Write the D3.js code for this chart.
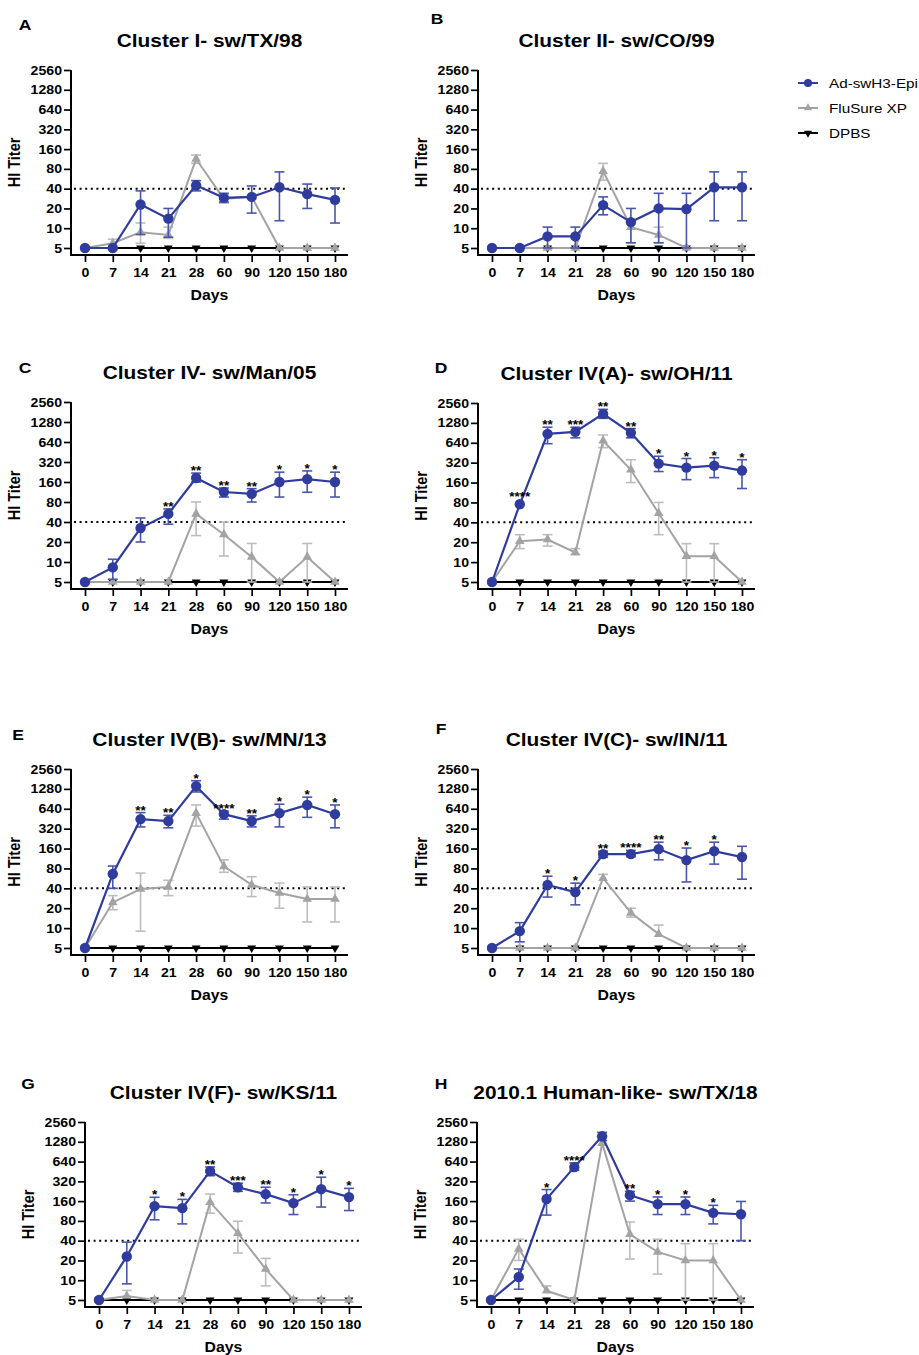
<!DOCTYPE html>
<html><head><meta charset="utf-8">
<script src="https://cdn.jsdelivr.net/npm/d3@7"></script>
<style>body{margin:0;background:#fff;} svg{display:block;} text{font-family:"Liberation Sans",Arial,sans-serif;}</style>
</head><body>
<svg id="c" width="919" height="1355"></svg>
<script>
const days = ["0","7","14","21","28","60","90","120","150","180"];
const yTicks = [5,10,20,40,80,160,320,640,1280,2560];
const titles = ["Cluster I- sw/TX/98","Cluster II- sw/CO/99","Cluster IV- sw/Man/05","Cluster IV(A)- sw/OH/11",
  "Cluster IV(B)- sw/MN/13","Cluster IV(C)- sw/IN/11","Cluster IV(F)- sw/KS/11","2010.1 Human-like- sw/TX/18"];
const letters = ["A","B","C","D","E","F","G","H"];
const seriesNames = ["Ad-swH3-Epi","FluSure XP","DPBS"];
const threshold = 40;
const dpbs = [5,5,5,5,5,5,5,5,5,5];

const epiA=[5,5,23,14,45,29,30,42,33,27], epiAhi=[null,null,37,20,53,34,44,72,47,41], epiAlo=[null,null,8,7.3,37,25,17,13,20,12];
const fluA=[5,5.9,8.7,7.9,113,28,30,5,5,5], fluAhi=[null,6.8,12,10.4,130,33,null,null,null,null], fluAlo=[null,null,5.9,7,97,24,null,null,null,null];
const sigA=["","","","","","","","","",""];

const epiB=[5,5,7.5,7.5,22.5,12.4,20,19.6,42,42], epiBhi=[null,null,10.4,10.4,30,20,34,34,72,72], epiBlo=[null,null,5,5,16,6,6,5,13,13];
const fluB=[5,5,5,5,74,10.4,7.9,5,5,5], fluBhi=[null,null,null,null,97,11.5,10.4,null,null,null], fluBlo=[null,null,null,null,54,6,6,null,null,null];
const sigB=["","","","","","","","","",""];

const epiC=[5,8.3,32.5,53,184,113,106,160,177,160], epiChi=[null,11,46,63,218,130,127,225,235,225], epiClo=[null,5.5,20,37,160,95,80,95,112,95];
const fluC=[5,5,5,5,53,26,11.9,5,11.9,5], fluChi=[null,null,null,null,80,40,19,null,19,null], fluClo=[null,null,null,null,25,12.3,5,null,5,null];
const sigC=["","","","**","**","**","**","*","*","*"];

const epiD=[5,75,874,937,1750,905,310,269,288,243], epiDhi=[null,null,1100,1100,2050,1050,400,370,380,355], epiDlo=[null,null,620,760,1500,760,235,177,190,130];
const fluD=[5,20.7,22,14,686,250,55,12.3,12.3,5], fluDhi=[null,26,26,16,840,355,80,19,19,null], fluDlo=[null,16,17.5,13,540,160,26,5,5,null];
const sigD=["","****","**","***","**","**","*","*","*","*"];

const epiE=[5,66,446,417,1410,530,417,550,730,530], epiEhi=[null,87,560,510,1700,590,500,750,960,730], epiElo=[null,40,340,330,1150,446,340,340,475,330];
const fluE=[5,24.5,39,42,550,86,45,34,27.5,27.5], fluEhi=[null,31,68,53,730,108,60,48,42,42], fluElo=[null,19,9,31,350,70,30,20,12.4,12.4];
const sigE=["","","**","**","*","****","**","*","*","*"];

const epiF=[5,9,45,35,132,132,157,107,146,119], epiFhi=[null,12.1,61,48,146,150,200,163,200,173], epiFlo=[null,6.2,29.5,22.5,118,121,108,50,93,55];
const fluF=[5,5,5,5,57,17,8.1,5,5,5], fluFhi=[null,null,null,null,65,20,11.1,null,null,null], fluFlo=[null,null,null,null,null,14.7,null,null,null,null];
const sigF=["","","*","*","**","****","**","*","*",""];

const epiG=[5,23,134,125,458,260,204,149,243,184], epiGhi=[null,38,183,170,530,300,260,200,370,250], epiGlo=[null,8.8,83,72,390,225,150,100,130,115];
const fluG=[5,5.75,5,5,154,52,14.8,5,5,5], fluGhi=[null,7,null,null,205,79,21.5,null,null,null], fluGlo=[null,null,null,null,105,26,8.2,null,null,null];
const sigG=["","","*","*","**","***","**","*","*","*"];

const epiH=[5,11.2,172,527,1550,197,144,144,106,101], epiHhi=[null,14.8,240,610,1780,225,185,185,138,158], epiHlo=[null,7.3,98,470,1340,160,100,100,72,40];
const fluH=[5,30,6.9,5,1220,50,27,20,20,5], fluHhi=[null,42,8.2,null,null,77,42,36,36,null], fluHlo=[null,20,null,null,null,21,12.4,5,5,null];
const sigH=["","","*","****","","**","*","*","*",""];

const panels = [
  {epi:epiA,ehi:epiAhi,elo:epiAlo,flu:fluA,fhi:fluAhi,flo:fluAlo,sig:sigA},
  {epi:epiB,ehi:epiBhi,elo:epiBlo,flu:fluB,fhi:fluBhi,flo:fluBlo,sig:sigB},
  {epi:epiC,ehi:epiChi,elo:epiClo,flu:fluC,fhi:fluChi,flo:fluClo,sig:sigC},
  {epi:epiD,ehi:epiDhi,elo:epiDlo,flu:fluD,fhi:fluDhi,flo:fluDlo,sig:sigD},
  {epi:epiE,ehi:epiEhi,elo:epiElo,flu:fluE,fhi:fluEhi,flo:fluElo,sig:sigE},
  {epi:epiF,ehi:epiFhi,elo:epiFlo,flu:fluF,fhi:fluFhi,flo:fluFlo,sig:sigF},
  {epi:epiG,ehi:epiGhi,elo:epiGlo,flu:fluG,fhi:fluGhi,flo:fluGlo,sig:sigG},
  {epi:epiH,ehi:epiHhi,elo:epiHlo,flu:fluH,fhi:fluHhi,flo:fluHlo,sig:sigH}
];

// layout
const layout = [
  {ax:71, yTop:70, yBot:248, lx:25, ly:24},
  {ax:478, yTop:70, yBot:248, lx:437, ly:18},
  {ax:71, yTop:402, yBot:582, lx:25, ly:367},
  {ax:478, yTop:403, yBot:582, lx:441, ly:367},
  {ax:71, yTop:769, yBot:948, lx:18, ly:734},
  {ax:478, yTop:769, yBot:948, lx:441, ly:728},
  {ax:85, yTop:1122, yBot:1300, lx:28, ly:1083},
  {ax:477, yTop:1122, yBot:1300, lx:441, ly:1083}
];

const SX = 1.13; // horizontal stretch of the original figure's lettering
const BLUE = "#2f3c9e", GRAY = "#a3a3a3", GRAYERR = "#bdbdbd";
const svg = d3.select("#c");

function stext(sel, x, y, txt, size, weight, anchor, extra) {
  return sel.append("text")
    .attr("transform", `translate(${x},${y}) scale(${SX},1)` + (extra || ""))
    .attr("text-anchor", anchor || "start")
    .attr("font-size", size).attr("font-weight", weight || "normal").text(txt);
}

panels.forEach((p, i) => {
  const L = layout[i];
  const g = svg.append("g");
  const x0 = L.ax + 14, x1 = x0 + 250;
  const xEnd = x1 + 13;
  const axisY = L.yBot + 7;
  const x = d3.scalePoint().domain(days).range([x0, x1]);
  const y = d3.scaleLog().base(2).domain([5, 2560]).range([L.yBot, L.yTop]);

  stext(g, L.lx, L.ly + 6, letters[i], 15.5, "bold", "middle");
  const cx = (L.ax + xEnd) / 2;
  stext(g, cx, L.yTop - 23, titles[i], 18.5, "bold", "middle");

  // y axis
  const ya = g.append("g").attr("transform",`translate(${L.ax},0)`)
    .call(d3.axisLeft(y).tickValues(yTicks).tickFormat(d3.format("d")).tickSize(7).tickSizeOuter(0));
  ya.select(".domain").remove();
  ya.selectAll(".tick line").attr("stroke","#000").attr("stroke-width",1.7);
  ya.selectAll(".tick text").attr("font-size",12.5).attr("font-weight","bold").attr("fill","#000")
    .attr("font-family","'Liberation Sans',Arial,sans-serif")
    .attr("x",null).attr("transform",`translate(-9,0) scale(${SX},1)`);
  g.append("line").attr("x1",L.ax).attr("x2",L.ax).attr("y1",L.yTop).attr("y2",axisY+1)
    .attr("stroke","#000").attr("stroke-width",2);

  // x axis
  const xa = g.append("g").attr("transform",`translate(0,${axisY})`)
    .call(d3.axisBottom(x).tickSize(7).tickSizeOuter(0));
  xa.select(".domain").remove();
  xa.selectAll(".tick line").attr("stroke","#000").attr("stroke-width",1.7);
  xa.selectAll(".tick text").attr("font-size",12.5).attr("font-weight","bold").attr("fill","#000")
    .attr("font-family","'Liberation Sans',Arial,sans-serif")
    .attr("y",null).attr("transform",`translate(0,13) scale(${SX},1)`);
  g.append("line").attr("x1",L.ax-1).attr("x2",xEnd).attr("y1",axisY).attr("y2",axisY)
    .attr("stroke","#000").attr("stroke-width",2);

  // axis titles
  stext(g, cx, axisY + 45, "Days", 14, "bold", "middle");
  stext(g, L.ax - 51, (L.yTop + axisY) / 2, "HI Titer", 14.5, "bold", "middle", " rotate(-90)");

  // threshold dotted
  g.append("line").attr("x1",L.ax+3).attr("x2",xEnd).attr("y1",y(threshold)).attr("y2",y(threshold))
    .attr("stroke","#000").attr("stroke-width",2).attr("stroke-dasharray","2,3.6");

  const line = d3.line().x((d,j)=>x(days[j])).y(d=>y(d));

  // DPBS
  g.append("path").attr("d", line(dpbs)).attr("fill","none").attr("stroke","#000").attr("stroke-width",1.8);
  const tri = d3.symbol().type(d3.symbolTriangle).size(34);
  dpbs.forEach((v,j)=>{
    g.append("path").attr("d",tri()).attr("transform",`translate(${x(days[j])},${y(v)}) rotate(180)`).attr("fill","#000");
  });

  function errs(vals, hi, lo, color, w) {
    vals.forEach((v,j)=>{
      const xx = x(days[j]);
      [hi[j], lo[j]].forEach(e=>{
        if (e == null) return;
        g.append("line").attr("x1",xx).attr("x2",xx).attr("y1",y(v)).attr("y2",y(e))
          .attr("stroke",color).attr("stroke-width",w);
        g.append("line").attr("x1",xx-5).attr("x2",xx+5).attr("y1",y(e)).attr("y2",y(e))
          .attr("stroke",color).attr("stroke-width",w);
      });
    });
  }

  // FluSure
  errs(p.flu, p.fhi, p.flo, GRAYERR, 1.6);
  g.append("path").attr("d", line(p.flu)).attr("fill","none").attr("stroke",GRAY).attr("stroke-width",2);
  const tri2 = d3.symbol().type(d3.symbolTriangle).size(40);
  p.flu.forEach((v,j)=>{
    g.append("path").attr("d",tri2()).attr("transform",`translate(${x(days[j])},${y(v)})`).attr("fill",GRAY);
  });

  // Epi
  errs(p.epi, p.ehi, p.elo, "#4a56ab", 1.6);
  g.append("path").attr("d", line(p.epi)).attr("fill","none").attr("stroke",BLUE).attr("stroke-width",2.2);
  p.epi.forEach((v,j)=>{
    g.append("circle").attr("cx",x(days[j])).attr("cy",y(v)).attr("r",5.2).attr("fill",BLUE);
  });

  // significance
  p.sig.forEach((s,j)=>{
    if (!s) return;
    const top = p.ehi[j] != null ? y(p.ehi[j]) : y(p.epi[j]) - 5;
    stext(g, x(days[j]), top + 2, s, 12, "bold", "middle");
  });
});

// legend
const legY = [83,108,133];
const legColors = [BLUE, GRAY, "#000"];
seriesNames.forEach((n,i)=>{
  const lg = svg.append("g");
  lg.append("line").attr("x1",798).attr("x2",818).attr("y1",legY[i]).attr("y2",legY[i])
    .attr("stroke",legColors[i]).attr("stroke-width",2);
  if (i===0) lg.append("circle").attr("cx",808).attr("cy",legY[i]).attr("r",4).attr("fill",BLUE);
  if (i===1) lg.append("path").attr("d",d3.symbol().type(d3.symbolTriangle).size(28)()).attr("transform",`translate(808,${legY[i]})`).attr("fill",GRAY);
  if (i===2) lg.append("path").attr("d",d3.symbol().type(d3.symbolTriangle).size(28)()).attr("transform",`translate(808,${legY[i]}) rotate(180)`).attr("fill","#000");
  stext(lg, 829, legY[i] + 5, n, 13.5, "normal", "start");
});
</script>
</body></html>
